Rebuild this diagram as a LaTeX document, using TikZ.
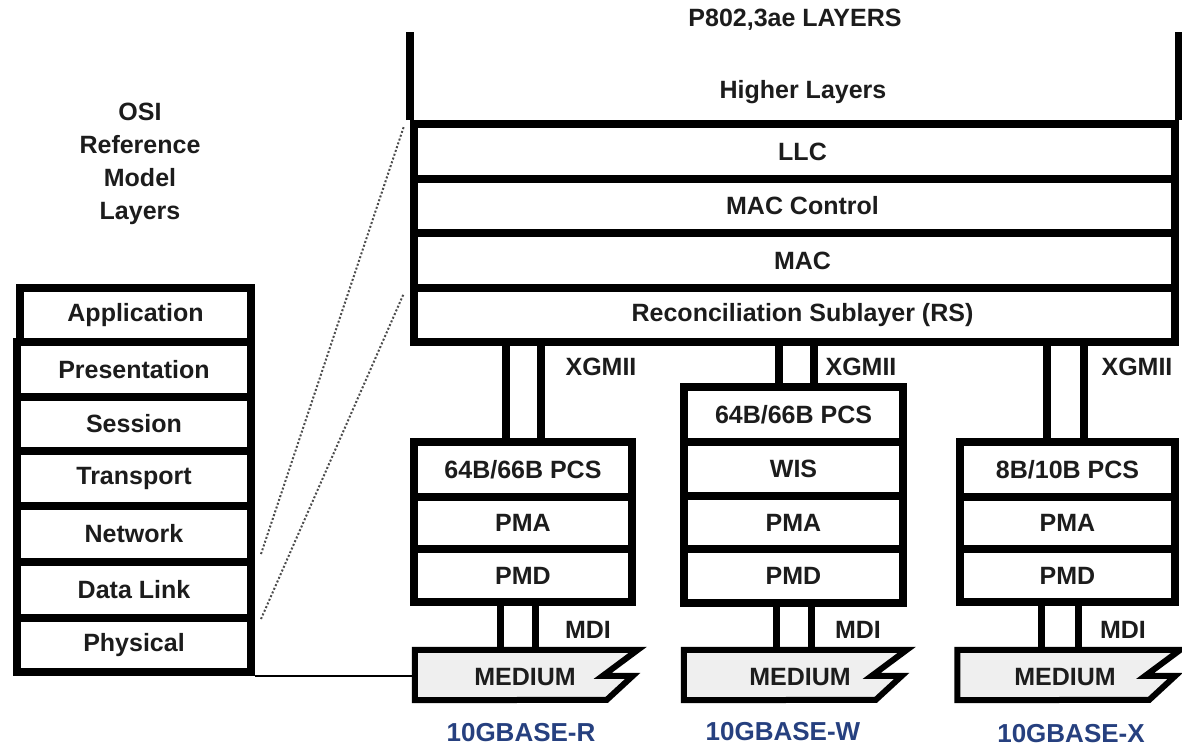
\documentclass[tikz,border=0pt]{standalone}
\usepackage{fontspec}
\setmainfont{Liberation Sans}
\usetikzlibrary{calc}
\definecolor{basecol}{HTML}{26407F}
\definecolor{txt}{HTML}{1C1C1C}
\definecolor{medfill}{HTML}{EFEFEF}
\tikzset{
  every node/.style={font=\fontsize{25}{33}\selectfont\bfseries, text=txt},
  layerbox/.style={draw=black, line width=8pt, minimum height=55pt, inner sep=0pt, line join=miter},
  frame/.style={draw=black, line width=8pt},
  bus/.style={draw=black, line width=8pt},
  mdibus/.style={draw=black, line width=7pt},
  medshape/.style={minimum width=223pt, minimum height=50pt, inner sep=0pt},
  medline/.style={draw=black, line width=6pt, fill=medfill, line join=miter},
  thinline/.style={draw=black, line width=2pt},
  dotline/.style={draw=black!70, line width=2pt, dotted},
  baselab/.style={text=basecol, font=\fontsize{26}{30}\selectfont\bfseries},
  plain/.style={inner sep=0pt}
}
\begin{document}
\begin{tikzpicture}[x=1pt, y=-1pt]
\useasboundingbox (0,0) rectangle (1182,747);

% ---------- OSI stack ----------
\node[plain, align=center] (osihead) at (140,164) {OSI\\Reference\\Model\\Layers};
\node[layerbox, minimum width=231pt, minimum height=54pt] (app)   at (135.5,315)   {Application};
\node[layerbox, minimum width=234pt, minimum height=55pt] (pres)  at (134,369.5)   {Presentation};
\node[layerbox, minimum width=234pt, minimum height=54pt] (sess)  at (134,424)     {Session};
\node[layerbox, minimum width=234pt, minimum height=55pt] (trans) at (134,478.5)   {Transport};
\node[layerbox, minimum width=234pt, minimum height=56pt] (net)   at (134,534)     {Network};
\node[layerbox, minimum width=234pt, minimum height=56pt] (dl)    at (134,590)     {Data Link};
\node[layerbox, minimum width=234pt, minimum height=54pt] (phys)  at (134,645)     {Physical};

% ---------- 802.3ae stack ----------
\node[plain] (title) at (795,20) {P802,3ae LAYERS};
\coordinate (top) at (0,32);
\node[plain] (higher) at (803,92) {Higher Layers};
\node[layerbox, minimum width=761pt, minimum height=55pt, label={[xshift=8pt]center:LLC}] (llc) at (794.5,151.5) {};
\node[layerbox, minimum width=761pt, minimum height=54pt, label={[xshift=8pt]center:MAC Control}] (macc) at (794.5,206) {};
\node[layerbox, minimum width=761pt, minimum height=55pt, label={[xshift=8pt]center:MAC}] (mac) at (794.5,260.5) {};
\node[layerbox, minimum width=761pt, minimum height=54pt, label={[xshift=8pt]center:Reconciliation Sublayer (RS)}] (rs) at (794.5,315) {};
\draw[frame] (llc.north west) -- (llc.north west |- top);
\draw[frame] (llc.north east) -- (llc.north east |- top);

% ---------- 10GBASE-R ----------
\node[layerbox, minimum width=218pt, minimum height=55pt] (pcsL) at (523,469.5) {64B/66B PCS};
\node[layerbox, minimum width=218pt, minimum height=52pt] (pmaL) at (523,523)   {PMA};
\node[layerbox, minimum width=218pt, minimum height=53pt] (pmdL) at (523,575.5) {PMD};

% ---------- 10GBASE-W ----------
\node[layerbox, minimum width=219pt, minimum height=55pt] (pcsM) at (793.5,414.5) {64B/66B PCS};
\node[layerbox, minimum width=219pt, minimum height=54pt] (wisM) at (793.5,469)   {WIS};
\node[layerbox, minimum width=219pt, minimum height=53pt] (pmaM) at (793.5,522.5) {PMA};
\node[layerbox, minimum width=219pt, minimum height=54pt] (pmdM) at (793.5,576)   {PMD};

% ---------- 10GBASE-X ----------
\node[layerbox, minimum width=215pt, minimum height=55pt] (pcsR) at (1067.5,469.5) {8B/10B PCS};
\node[layerbox, minimum width=215pt, minimum height=52pt] (pmaR) at (1067.5,523)   {PMA};
\node[layerbox, minimum width=215pt, minimum height=53pt] (pmdR) at (1067.5,575.5) {PMD};

% ---------- XGMII buses ----------
\coordinate (xl1) at (506,0);  \coordinate (xl2) at (541,0);
\coordinate (xm1) at (779,0);  \coordinate (xm2) at (814,0);
\coordinate (xr1) at (1047,0); \coordinate (xr2) at (1084,0);
\draw[bus] (rs.south -| xl1) -- (pcsL.north -| xl1);
\draw[bus] (rs.south -| xl2) -- (pcsL.north -| xl2);
\draw[bus] (rs.south -| xm1) -- (pcsM.north -| xm1);
\draw[bus] (rs.south -| xm2) -- (pcsM.north -| xm2);
\draw[bus] (rs.south -| xr1) -- (pcsR.north -| xr1);
\draw[bus] (rs.south -| xr2) -- (pcsR.north -| xr2);
\node[plain] (xgL) at (601,367) {XGMII};
\node[plain] (xgM) at (861,367) {XGMII};
\node[plain] (xgR) at (1137,367) {XGMII};

% ---------- Media ----------
\node[medshape] (medL) at (526.5,675) {};
\node[medshape] (medM) at (795.5,675) {};
\node[medshape] (medR) at (1069,675) {};
\foreach \m in {medL,medM,medR}{
  \draw[medline] (\m.north west) -- ++(223,0) -- ++(-35,26) -- ++(30,0) -- ++(-26,24) -- (\m.south west) -- cycle;
}
\node[plain] (medLt) at (525,677) {MEDIUM};
\node[plain] (medMt) at (800,677) {MEDIUM};
\node[plain] (medRt) at (1065,677) {MEDIUM};

% ---------- MDI buses ----------
\coordinate (ml1) at (500,0);  \coordinate (ml2) at (535,0);
\coordinate (mm1) at (776,0);  \coordinate (mm2) at (811,0);
\coordinate (mr1) at (1041,0); \coordinate (mr2) at (1078,0);
\draw[mdibus] (pmdL.south -| ml1) -- (medL.north -| ml1);
\draw[mdibus] (pmdL.south -| ml2) -- (medL.north -| ml2);
\draw[mdibus] (pmdM.south -| mm1) -- (medM.north -| mm1);
\draw[mdibus] (pmdM.south -| mm2) -- (medM.north -| mm2);
\draw[mdibus] (pmdR.south -| mr1) -- (medR.north -| mr1);
\draw[mdibus] (pmdR.south -| mr2) -- (medR.north -| mr2);
\node[plain] (mdiL) at (588,630) {MDI};
\node[plain] (mdiM) at (858,630) {MDI};
\node[plain] (mdiR) at (1123,630) {MDI};

% ---------- base labels ----------
\node[baselab] (bR) at (521,733) {10GBASE-R};
\node[baselab] (bW) at (783,732) {10GBASE-W};
\node[baselab] (bX) at (1071,734) {10GBASE-X};

% ---------- OSI mapping ----------
\draw[thinline] (phys.south east) -- (phys.south east -| medL.west);
\draw[dotline] ($(net.south east)+(6,-12)$) -- ($(llc.north west)+(-6,6)$);
\draw[dotline] ($(dl.south east)+(6,-3)$) -- ($(rs.north west)+(-6,9)$);
\end{tikzpicture}
\end{document}
